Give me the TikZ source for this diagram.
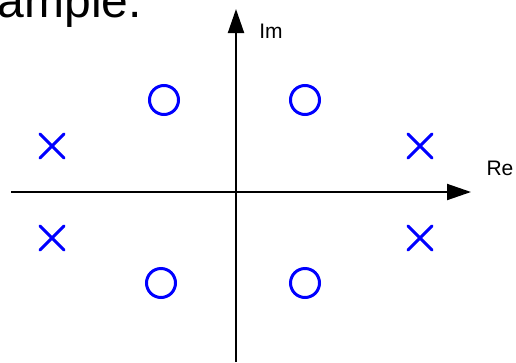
\documentclass[tikz,border=0pt]{standalone}
\usepackage{fontspec}
\setmainfont{Liberation Sans}
\usetikzlibrary{arrows.meta}
\definecolor{markblue}{HTML}{0000FF}

\tikzset{
  axisline/.style={black, line width=2pt, -{Triangle[length=24pt, width=16pt]}},
  axislabel/.style={inner sep=0pt, font=\fontsize{21}{21}\selectfont},
  polemark/.style={markblue, line width=3pt, line cap=round},
  zeromark/.style={markblue, line width=3pt}
}

\begin{document}
\begin{tikzpicture}[x=1pt, y=-1pt]
  \useasboundingbox (0,0) rectangle (516,362);
  \clip (0,0) rectangle (516,362);

  % Caption text, cut at the top edge
  \node[anchor=base east, inner sep=0pt, font=\fontsize{48}{48}\selectfont] (caption) at (142,17) {ample.};

  % Axes
  \coordinate (reStart) at (11,192);
  \coordinate (reEnd) at (471,192);
  \coordinate (imStart) at (236,362);
  \coordinate (imEnd) at (236,9);
  \draw[axisline] (reStart) -- (reEnd);
  \draw[axisline] (imStart) -- (imEnd);
  \node[axislabel] (relabel) at (500,168) {Re};
  \node[axislabel] (imlabel) at (271,31) {Im};

  % Poles
  \foreach \px/\py in {52/146, 420/146, 52/238, 420/238}
    \draw[polemark] (\px-12,\py-12) -- (\px+12,\py+12)
                    (\px-12,\py+12) -- (\px+12,\py-12);

  % Zeros
  \foreach \zx/\zy in {164/100, 305/100, 161/283, 305/283}
    \draw[zeromark] (\zx,\zy) circle (14.5);
\end{tikzpicture}
\end{document}
